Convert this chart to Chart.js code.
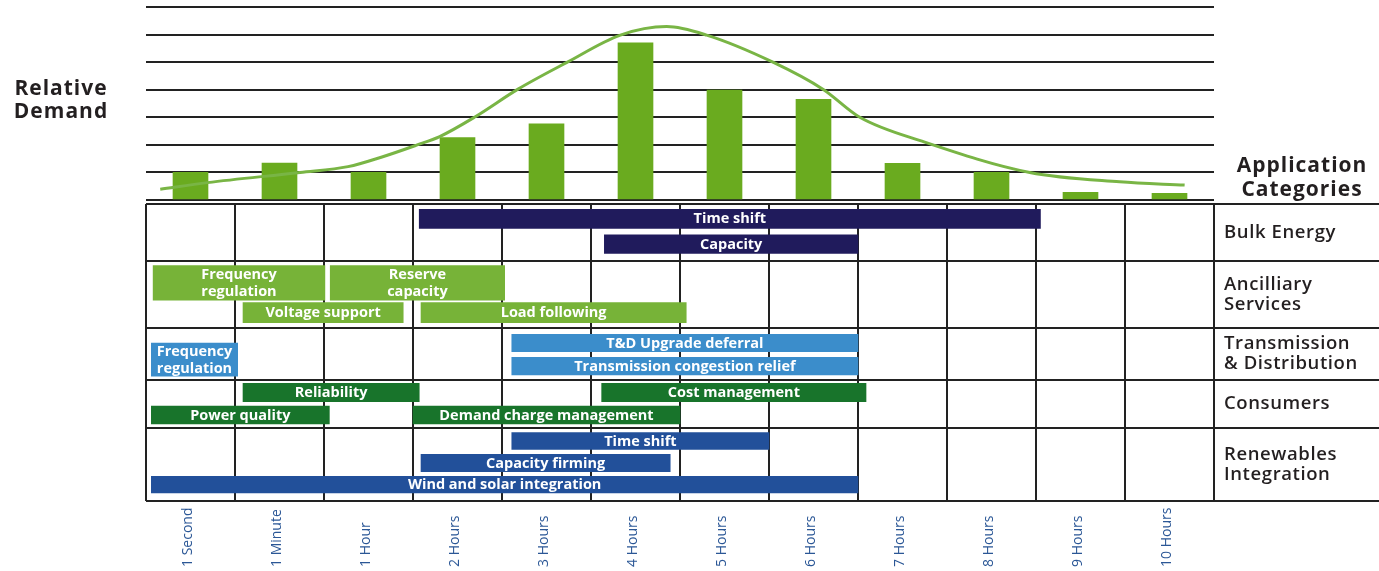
<!DOCTYPE html>
<html><head><meta charset="utf-8">
<script src="https://cdn.jsdelivr.net/npm/chart.js@4.4.1/dist/chart.umd.min.js"></script>
<style>
html,body{margin:0;padding:0;background:#fff;}
#wrap{position:relative;width:1379px;height:571px;overflow:hidden;background:#fff;}
canvas{position:absolute;left:0;top:0;}
</style></head><body>
<div id="wrap"><canvas id="topChart" width="1379" height="571"></canvas><canvas id="appChart" width="1379" height="571"></canvas></div>
<script>
// ================= DATA =================
const durationLabels = ['1 Second','1 Minute','1 Hour','2 Hours','3 Hours','4 Hours','5 Hours','6 Hours','7 Hours','8 Hours','9 Hours','10 Hours'];
const demandValues = [1.0, 1.34, 1.0, 2.26, 2.76, 5.7, 3.99, 3.65, 1.33, 1.0, 0.28, 0.24];
// relative demand curve (x in duration columns)
const curveX = [0.16, 0.69, 1.73, 2.27, 2.66, 3.04, 3.30, 3.70, 4.18, 4.73, 5.33, 5.85, 6.30, 7.05, 7.61, 8.02, 8.75, 9.93, 10.94, 11.67];
const curveY = [0.39, 0.63, 1.0, 1.21, 1.57, 1.99, 2.30, 3.02, 4.02, 4.99, 5.98, 6.29, 5.98, 4.99, 4.01, 3.0, 2.1, 1.0, 0.66, 0.54];

const categoryNames = [['Bulk Energy'], ['Ancilliary', 'Services'], ['Transmission', '& Distribution'], ['Consumers'], ['Renewables', 'Integration']];

const appNames = ['Time shift', 'Capacity',
  'Frequency\nregulation', 'Reserve\ncapacity', 'Voltage support', 'Load following',
  'Frequency\nregulation', 'T&D Upgrade deferral', 'Transmission congestion relief',
  'Reliability', 'Power quality', 'Demand charge management', 'Cost management',
  'Time shift', 'Capacity firming', 'Wind and solar integration'];
const appCategory = [0, 0, 1, 1, 1, 1, 2, 2, 2, 3, 3, 3, 3, 4, 4, 4];
const appStart = [3.07, 5.15, 0.08, 2.07, 1.09, 3.09, 0.06, 4.11, 4.11, 1.09, 0.06, 3.0, 5.12, 4.11, 3.09, 0.06];
const appEnd   = [10.05, 8.0, 2.01, 4.03, 2.89, 6.07, 1.03, 8.0, 8.0, 3.07, 2.06, 6.0, 8.09, 7.0, 5.89, 8.0];

// ================= LAYOUT / STYLE =================
const W = 1379, H = 571;
const plotLeft = 146, plotRight = 1214, colW = (plotRight - plotLeft) / 12;
const topArea = {top: 7, bottom: 200};
const gridArea = {top: 204, bottom: 501};
const rowBounds = [0, 57, 124, 176, 224, 297];           // row edges, px below grid top
const rowLanes = [                                       // lane centre / thickness inside each row
  [{c: 14.8, t: 19}, {c: 40.2, t: 18.5}],
  [{c: 21.8, t: 34.5}, {c: 51.7, t: 20}],
  [{c: 15.0, t: 17.5}, {c: 38.2, t: 17.5}, {c: 31.7, t: 33}],
  [{c: 12.5, t: 18.5}, {c: 35.0, t: 18}],
  [{c: 13.0, t: 17}, {c: 35.0, t: 17.5}, {c: 56.7, t: 16.5}]
];
const appLane = [0, 1, 0, 0, 1, 1, 2, 0, 1, 0, 1, 1, 0, 0, 1, 2];
const categoryColors = ['#201b5c', '#77b338', '#3b8dcb', '#18742b', '#22509a'];
const demandBarColor = '#6aab1f';
const curveColor = '#79b545';
const lineColor = '#222222';
const FONT = "'Open Sans', 'Noto Sans', sans-serif";

// ================= TOP CHART =================
new Chart(document.getElementById('topChart'), {
  type: 'bar',
  data: {
    datasets: [
      {type: 'line', data: curveX.map((x, i) => ({x, y: curveY[i]})), borderColor: curveColor, borderWidth: 3,
       pointRadius: 0, cubicInterpolationMode: 'monotone', fill: false, order: 0},
      {type: 'bar', data: demandValues.map((v, i) => ({x: i + 0.5, y: v})), backgroundColor: demandBarColor,
       barThickness: 35, borderWidth: 0, order: 1}
    ]
  },
  options: {
    responsive: false, animation: false, events: [],
    layout: {padding: {left: plotLeft, right: W - plotRight, top: topArea.top, bottom: H - topArea.bottom}},
    plugins: {legend: {display: false}, tooltip: {enabled: false}},
    scales: {
      x: {type: 'linear', min: 0, max: 12, offset: false, display: false},
      y: {type: 'linear', min: 0, max: 7, ticks: {display: false, stepSize: 1},
          grid: {color: lineColor, lineWidth: 2, drawTicks: false}, border: {display: false},
          afterFit(s) { s.width = 0; }}
    }
  }
});

// ================= APPLICATION CHART =================
const textPlugin = {
  id: 'texts',
  afterDatasetsDraw(chart) {
    const ctx = chart.ctx;
    ctx.save();
    ctx.fillStyle = '#ffffff';
    ctx.font = `700 14.5px ${FONT}`;
    ctx.textAlign = 'center';
    ctx.textBaseline = 'middle';
    chart.data.datasets.forEach((ds, i) => {
      const el = chart.getDatasetMeta(i).data[0];
      if (!el) return;
      const cx = (el.x + el.base) / 2;
      const lines = ds.label.split('\n');
      const lh = 16.5;
      lines.forEach((ln, k) => ctx.fillText(ln, cx, el.y + (k - (lines.length - 1) / 2) * lh + 0.5));
    });
    ctx.restore();
  },
  afterDraw(chart) {
    const ctx = chart.ctx;
    const xs = chart.scales.x, ys = chart.scales.y;
    ctx.save();
    ctx.fillStyle = '#2b5796';
    ctx.font = `400 14px ${FONT}`;
    ctx.textAlign = 'left';
    ctx.textBaseline = 'middle';
    durationLabels.forEach((lab, i) => {
      const px = xs.getPixelForValue(i + 0.5) - 2;
      ctx.save();
      ctx.translate(px, 567);
      ctx.rotate(-Math.PI / 2);
      ctx.fillText(lab, 0, 0);
      ctx.restore();
    });
    ctx.fillStyle = '#231f20';
    ctx.font = `600 18.5px ${FONT}`;
    ctx.letterSpacing = '0.6px';
    ctx.textAlign = 'left';
    categoryNames.forEach((lines, r) => {
      const yc = (ys.getPixelForValue(rowBounds[r]) + ys.getPixelForValue(rowBounds[r + 1])) / 2;
      lines.forEach((ln, k) => ctx.fillText(ln, plotRight + 10, yc + (k - (lines.length - 1) / 2) * 20));
    });
    ctx.font = `700 21px ${FONT}`;
    ctx.letterSpacing = '1px';
    ctx.textAlign = 'center';
    ctx.fillText('Relative', 61, 89);
    ctx.fillText('Demand', 61, 112);
    ctx.fillText('Application', 1302, 166);
    ctx.fillText('Categories', 1302, 190);
    ctx.restore();
  }
};

new Chart(document.getElementById('appChart'), {
  type: 'bar',
  data: {
    datasets: appNames.map((name, i) => {
      const lane = rowLanes[appCategory[i]][appLane[i]];
      return {
        label: name,
        data: [{x: [appStart[i], appEnd[i]], y: rowBounds[appCategory[i]] + lane.c}],
        backgroundColor: categoryColors[appCategory[i]],
        barThickness: lane.t, grouped: false, borderWidth: 0, borderSkipped: false
      };
    })
  },
  options: {
    indexAxis: 'y',
    responsive: false, animation: false, events: [],
    layout: {padding: {left: plotLeft, right: 0, top: gridArea.top, bottom: H - gridArea.bottom}},
    plugins: {legend: {display: false}, tooltip: {enabled: false}},
    scales: {
      x: {type: 'linear', min: 0, max: 12 + (W - plotRight) / colW, offset: false,
          afterBuildTicks(s) { s.ticks = durationLabels.map((_, i) => ({value: i})).concat([{value: 12}]); },
          ticks: {display: false},
          grid: {color: lineColor, lineWidth: 2, drawTicks: false, offset: false}, border: {display: false},
          afterFit(s) { s.height = 0; }},
      y: {type: 'linear', min: rowBounds[0], max: rowBounds[rowBounds.length - 1], reverse: true, offset: false,
          afterBuildTicks(s) { s.ticks = rowBounds.map(v => ({value: v})); },
          ticks: {display: false},
          grid: {color: lineColor, lineWidth: 2, drawTicks: false, offset: false}, border: {display: false},
          afterFit(s) { s.width = 0; }}
    }
  },
  plugins: [textPlugin]
});
</script>
</body></html>
